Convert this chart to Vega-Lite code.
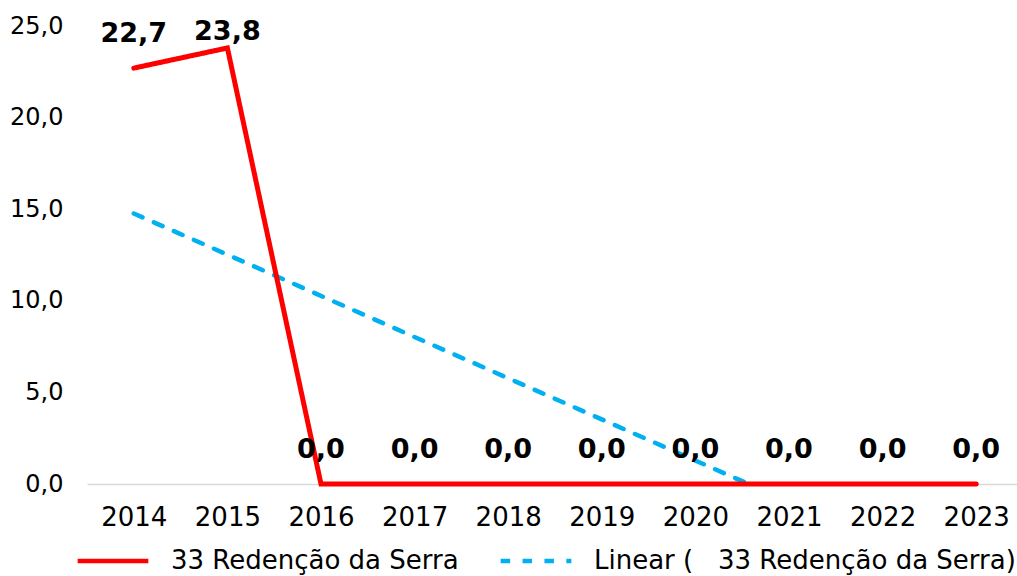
{
  "$schema": "https://vega.github.io/schema/vega-lite/v6.json",
  "width": 930,
  "height": 458,
  "autosize": {"type": "none"},
  "padding": {"left": 87, "top": 26, "right": 0, "bottom": 92},
  "background": "white",
  "config": {
    "view": {"stroke": null},
    "font": "DejaVu Sans",
    "locale": {"number": {"decimal": ",", "thousands": ".", "grouping": [3], "currency": ["", ""]}}
  },
  "data": {
    "values": [
      {"year": 2014, "value": 22.7},
      {"year": 2015, "value": 23.8},
      {"year": 2016, "value": 0.0},
      {"year": 2017, "value": 0.0},
      {"year": 2018, "value": 0.0},
      {"year": 2019, "value": 0.0},
      {"year": 2020, "value": 0.0},
      {"year": 2021, "value": 0.0},
      {"year": 2022, "value": 0.0},
      {"year": 2023, "value": 0.0}
    ]
  },
  "encoding": {
    "x": {
      "field": "year", "type": "quantitative",
      "scale": {"domain": [2013.5, 2023.436], "nice": false, "zero": false},
      "axis": {
        "title": null, "values": [2014, 2015, 2016, 2017, 2018, 2019, 2020, 2021, 2022, 2023],
        "format": "d", "grid": false, "ticks": false, "domainColor": "#D9D9D9", "domainWidth": 1.3,
        "labelFontSize": 26, "labelColor": "#000000", "labelPadding": 20, "labelFlush": false
      }
    },
    "y": {
      "field": "value", "type": "quantitative",
      "scale": {"domain": [0, 25], "nice": false},
      "axis": {
        "title": null, "values": [0, 5, 10, 15, 20, 25], "format": ".1f",
        "grid": false, "ticks": false, "domain": false,
        "labelFontSize": 24, "labelColor": "#000000", "labelPadding": 24
      }
    }
  },
  "layer": [
    {
      "transform": [{"regression": "value", "on": "year", "extent": [2014, 2023]}],
      "mark": {"type": "line", "clip": true, "strokeWidth": 4.5, "strokeCap": "round"},
      "encoding": {
        "color": {"datum": "Linear (\u00a0\u00a0\u00a033 Redenção da Serra)", "type": "nominal"},
        "strokeDash": {"datum": "Linear (\u00a0\u00a0\u00a033 Redenção da Serra)", "type": "nominal"}
      }
    },
    {
      "mark": {"type": "line", "strokeWidth": 5, "strokeCap": "round", "strokeJoin": "miter"},
      "encoding": {
        "color": {
          "datum": "33 Redenção da Serra", "type": "nominal",
          "scale": {"domain": ["33 Redenção da Serra", "Linear (\u00a0\u00a0\u00a033 Redenção da Serra)"], "range": ["#FF0000", "#00B0F0"]},
          "legend": {
            "title": null, "orient": "none", "legendX": -12, "legendY": 497, "direction": "horizontal",
            "columns": 2, "symbolType": "stroke", "symbolSize": 5000, "symbolStrokeWidth": 4.5,
            "labelFontSize": 26, "labelColor": "#000000", "labelOffset": 20, "columnPadding": 32,
            "labelLimit": 600
          }
        },
        "strokeDash": {
          "datum": "33 Redenção da Serra", "type": "nominal",
          "scale": {"domain": ["33 Redenção da Serra", "Linear (\u00a0\u00a0\u00a033 Redenção da Serra)"], "range": [[1, 0], [9.5, 12.4]]},
          "legend": {
            "title": null, "orient": "none", "legendX": -12, "legendY": 497, "direction": "horizontal",
            "columns": 2, "symbolType": "stroke", "symbolSize": 5000, "symbolStrokeWidth": 4.5,
            "labelFontSize": 26, "labelColor": "#000000", "labelOffset": 20, "columnPadding": 32,
            "labelLimit": 600
          }
        }
      }
    },
    {
      "transform": [{"filter": "datum.value < 23"}],
      "mark": {"type": "text", "fontWeight": "bold", "fontSize": 27, "baseline": "middle", "dy": -34, "color": "#000000"},
      "encoding": {"text": {"field": "value", "type": "quantitative", "format": ".1f"}}
    },
    {
      "transform": [{"filter": "datum.value >= 23"}],
      "mark": {"type": "text", "fontWeight": "bold", "fontSize": 27, "baseline": "middle", "dy": -15.5, "color": "#000000"},
      "encoding": {"text": {"field": "value", "type": "quantitative", "format": ".1f"}}
    }
  ]
}
